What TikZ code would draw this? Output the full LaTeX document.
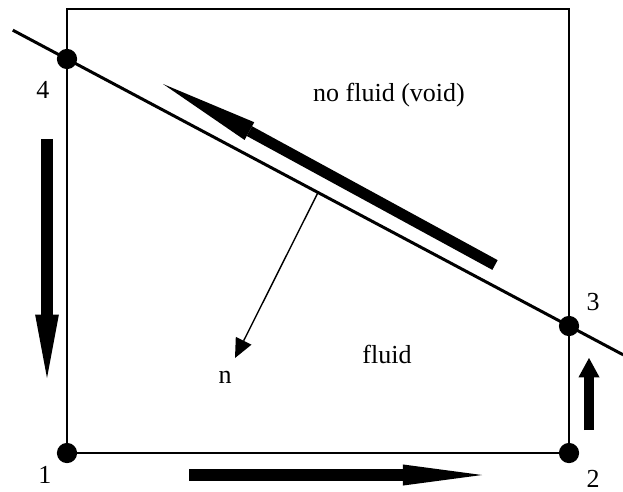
\documentclass[tikz,border=0pt]{standalone}
\usepackage{fontspec}
\setmainfont{Liberation Serif}
\usetikzlibrary{arrows.meta,calc}
\tikzset{edge/.style={line width=.9pt},interface/.style={line width=1.7pt},
 flow/.style 2 args={-{Triangle[length=#1,width=#2,line width=0pt]},line width=6.3pt},
 normal/.style={-{Triangle[length=11pt,width=10pt,line width=0pt]},line width=.8pt},
 vertex/.style={circle,fill,inner sep=0pt,minimum size=11.5pt},
 every node/.style={font=\fontsize{14.8}{17}\selectfont}}

\begin{document}
\begin{tikzpicture}[x=.2mm,y=.2mm]
\useasboundingbox (0,0) rectangle (623,491);
\node[vertex] (n1) at (67,38) {};
\node[vertex] (n2) at (569,38) {};
\node[vertex] (n3) at (569,165) {};
\node[vertex] (n4) at (67,432) {};
\coordinate (tl) at (67,482);
\coordinate (tr) at (569,482);
\draw[edge] (n1)--(n2)--(n3)--(tr)--(tl)--(n4)--(n1);
\coordinate (a) at ($(n4)!-.108!(n3)$);
\coordinate (b) at ($(n3)!-.108!(n4)$);
\draw[interface] (a)--(b);
\coordinate (m) at ($(n4)!.5!(n3)$);
\coordinate (ntip) at (235,133);
\draw[normal] (m)--(ntip);
% flow along the cell boundary
\coordinate (s1) at (47,352); \coordinate (e1) at (47,113);
\coordinate (s2) at (189,16); \coordinate (e2) at (482,16);
\coordinate (s3) at (589,61); \coordinate (e3) at (589,133);
\coordinate (s4) at (495,226); \coordinate (e4) at (163,407);
\draw[flow={36pt}{13.5pt}] (s1)--(e1);
\draw[flow={45pt}{12pt}] (s2)--(e2);
\draw[flow={11pt}{12pt},line width=5.7pt] (s3)--(e3);
\draw[flow={56pt}{11.5pt}] (s4)--(e4);
\node (l1) at (45,16) {1};
\node (l2) at (593,12) {2};
\node (l3) at (593,189) {3};
\node (l4) at (43,401) {4};
\node (ln) at (225,114) {n};
\node (fluid) at (387,137) {fluid};
\node (void) at (389,396) {no fluid (void)};
\end{tikzpicture}
\end{document}
